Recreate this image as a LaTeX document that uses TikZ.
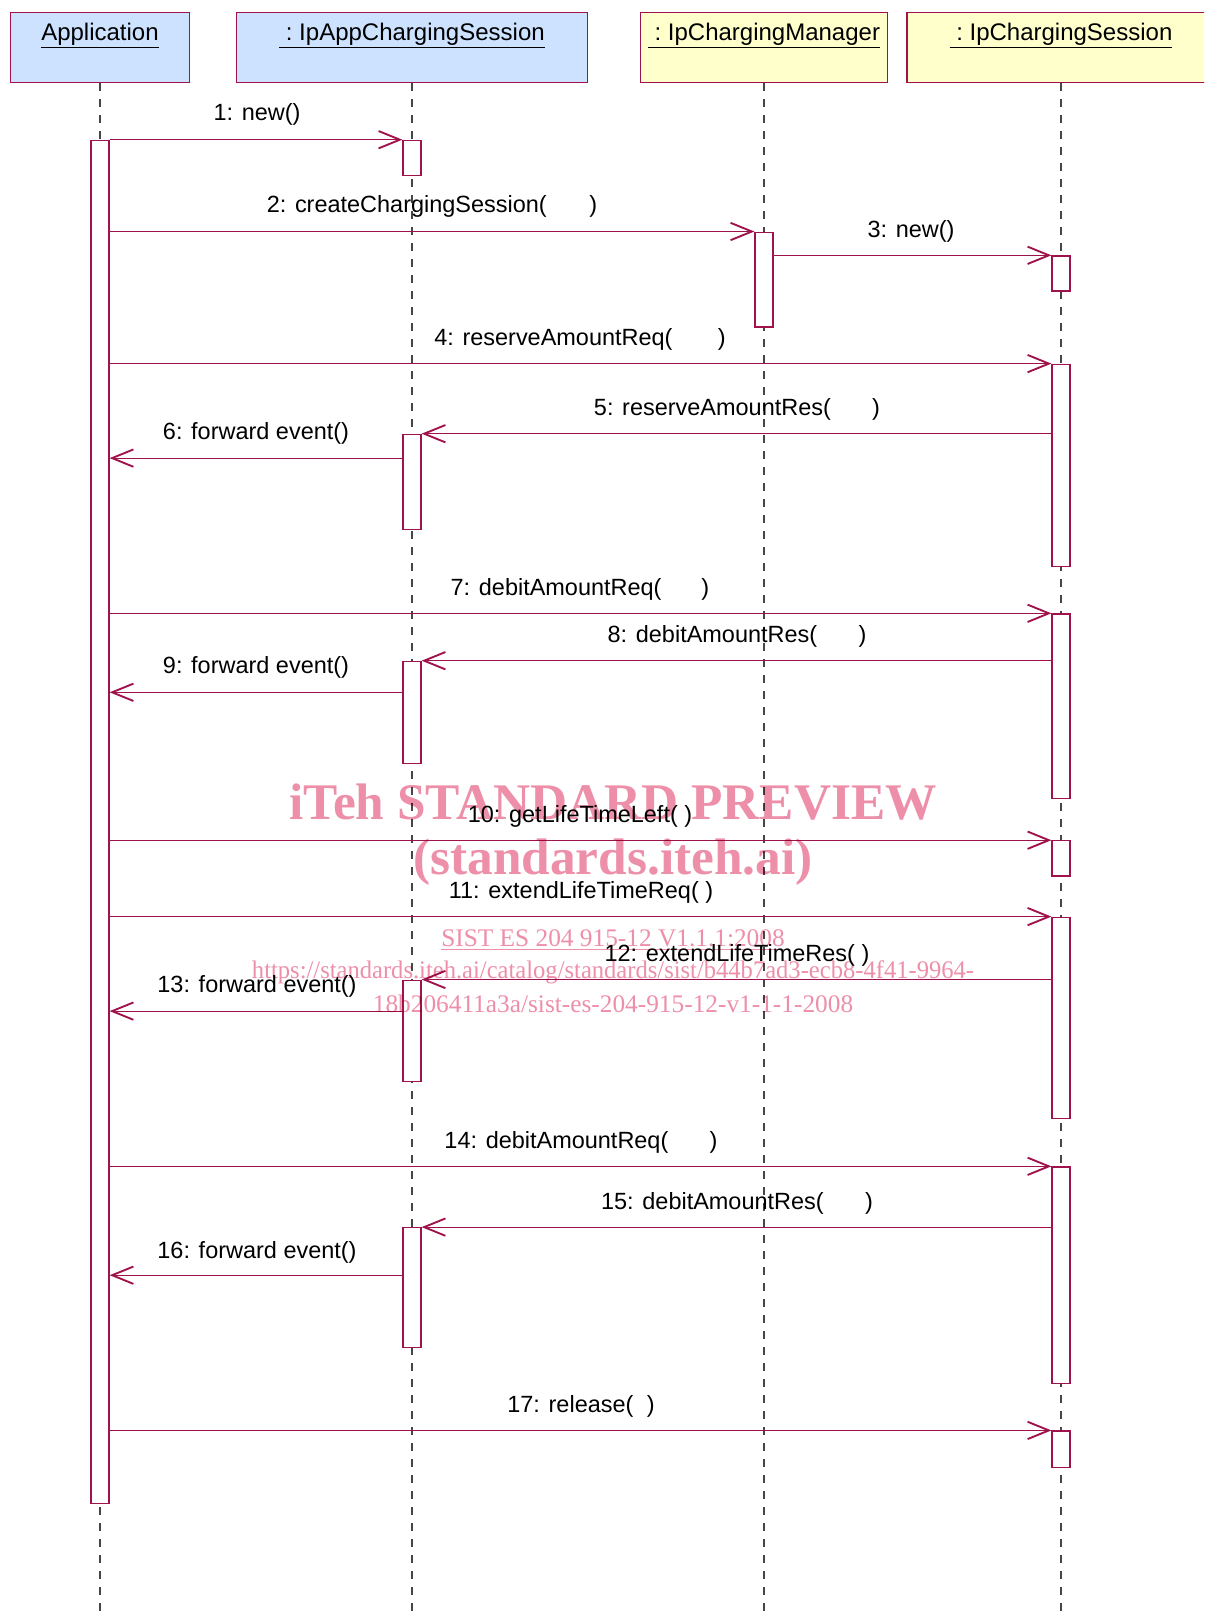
\documentclass[tikz,border=0pt]{standalone}
\usepackage{fontspec}
\setmainfont{Liberation Sans}
\newfontfamily\wmfont{Liberation Serif}
\usetikzlibrary{arrows.meta,fit}
\definecolor{crim}{RGB}{160,18,75}
\definecolor{hblue}{RGB}{204,226,255}
\definecolor{hyellow}{RGB}{255,255,204}
\definecolor{wm}{RGB}{238,143,170}
\definecolor{lifegray}{RGB}{70,70,70}
\begin{document}
\begin{tikzpicture}[x=0.75pt,y=-0.75pt,
  hdr/.style={draw=crim, line width=0.9pt, inner sep=0pt},
  act/.style={draw=crim, fill=white, line width=0.9pt, inner sep=0pt},
  life/.style={draw=lifegray, line width=0.9pt, dash pattern=on 6pt off 6pt},
  msg/.style={draw=crim, line width=0.9pt, -{Straight Barb[length=16pt,width=13pt,line width=1.4pt]}},
  lbl/.style={font=\fontsize{17.6}{20}\selectfont, inner sep=0pt},
  htext/.style={font=\fontsize{18}{20}\selectfont, inner sep=0pt},
  wmbig/.style={text=wm, font=\wmfont\bfseries\fontsize{38.5}{44}\selectfont, inner sep=0pt},
  wmsmall/.style={text=wm, font=\wmfont\fontsize{19}{22}\selectfont, inner sep=0pt}
]
\useasboundingbox (0,0) rectangle (1204,1618);
\clip (0,0) rectangle (1204,1618);
\fill[white] (0,0) rectangle (1204,1618);

% headers
\node[hdr, fill=hblue, fit={(10.3,12.4)(189.7,82.5)}] (app) {};
\node[hdr, fill=hblue, fit={(236.6,12.4)(587.4,82.5)}] (ias) {};
\node[hdr, fill=hyellow, fit={(640.7,12.4)(887.3,82.5)}] (mgr) {};
\node[hdr, fill=hyellow, fit={(906.9,12.4)(1215.1,82.5)}] (ses) {};
\node[htext] (appT) at (100,36) {\underline{Application}};
\node[htext] (iasT) at (412,36) {\underline{\ :\ IpAppChargingSession}};
\node[htext] (mgrT) at (764,36) {\underline{\ :\ IpChargingManager}};
\node[htext] (sesT) at (1061,36) {\underline{\ :\ IpChargingSession}};

% lifelines
\coordinate (bot) at (0,1618);
\draw[life] (app.south) -- (app.south |- bot);
\draw[life] (ias.south) -- (ias.south |- bot);
\draw[life] (mgr.south) -- (mgr.south |- bot);
\draw[life] (ses.south) -- (ses.south |- bot);

% activations
\node[act, fit={(91,140.3)(109,1503.2)}] (appact) {};
\node[act, fit={(403,140.3)(421,175.4)}] (ia1) {};
\node[act, fit={(403,434.3)(421,529.3)}] (ia2) {};
\node[act, fit={(403,661.3)(421,763.5)}] (ia3) {};
\node[act, fit={(403,980.1)(421,1081.2)}] (ia4) {};
\node[act, fit={(403,1227.7)(421,1347.4)}] (ia5) {};
\node[act, fit={(755,232.1)(773,327.0)}] (mg1) {};
\node[act, fit={(1052,255.9)(1070,290.9)}] (s1) {};
\node[act, fit={(1052,364.2)(1070,566.4)}] (s2) {};
\node[act, fit={(1052,613.9)(1070,798.5)}] (s3) {};
\node[act, fit={(1052,840.8)(1070,875.9)}] (s4) {};
\node[act, fit={(1052,917.2)(1070,1118.4)}] (s5) {};
\node[act, fit={(1052,1166.9)(1070,1383.5)}] (s6) {};
\node[act, fit={(1052,1431.0)(1070,1467.1)}] (s7) {};

% messages
\coordinate (m6) at (0,458.1);
\coordinate (m9) at (0,692.3);
\coordinate (m13) at (0,1011.1);
\coordinate (m16) at (0,1275.2);
\draw[msg] (appact.east |- ia1.north) -- (ia1.north west);
\draw[msg] (appact.east |- mg1.north) -- (mg1.north west);
\draw[msg] (mg1.east |- s1.north) -- (s1.north west);
\draw[msg] (appact.east |- s2.north) -- (s2.north west);
\draw[msg] (s2.west |- ia2.north) -- (ia2.north east);
\draw[msg] (ia2.west |- m6) -- (appact.east |- m6);
\draw[msg] (appact.east |- s3.north) -- (s3.north west);
\draw[msg] (s3.west |- ia3.north) -- (ia3.north east);
\draw[msg] (ia3.west |- m9) -- (appact.east |- m9);
\draw[msg] (appact.east |- s4.north) -- (s4.north west);
\draw[msg] (appact.east |- s5.north) -- (s5.north west);
\draw[msg] (s5.west |- ia4.north) -- (ia4.north east);
\draw[msg] (ia4.west |- m13) -- (appact.east |- m13);
\draw[msg] (appact.east |- s6.north) -- (s6.north west);
\draw[msg] (s6.west |- ia5.north) -- (ia5.north east);
\draw[msg] (ia5.west |- m16) -- (appact.east |- m16);
\draw[msg] (appact.east |- s7.north) -- (s7.north west);

% watermark (multiplied over the drawing)
\begin{scope}[blend mode=multiply]
\node[wmbig] (wm1) at (613,802) {iTeh STANDARD PREVIEW};
\node[wmbig] (wm2) at (613,862) {(standards.iteh.ai)};
\node[wmsmall] (wm3) at (613,940) {\underline{SIST ES 204 915-12 V1.1.1:2008}};
\node[wmsmall, xscale=0.97] (wm4) at (613,972) {https://standards.iteh.ai/catalog/standards/sist/b44b7ad3-ecb8-4f41-9964-};
\node[wmsmall] (wm5) at (613,1004) {18b206411a3a/sist-es-204-915-12-v1-1-1-2008};
\end{scope}

% labels
\node[lbl] (l1) at (257,114) {1: new()};
\node[lbl] (l2) at (432,206) {2: createChargingSession(\hspace{32pt})};
\node[lbl] (l3) at (911,231) {3: new()};
\node[lbl] (l4) at (580,339) {4: reserveAmountReq(\hspace{34pt})};
\node[lbl] (l5) at (737,409) {5: reserveAmountRes(\hspace{31pt})};
\node[lbl] (l6) at (256,433) {6: forward event()};
\node[lbl] (l7) at (580,589) {7: debitAmountReq(\hspace{30pt})};
\node[lbl] (l8) at (737,636) {8: debitAmountRes(\hspace{31pt})};
\node[lbl] (l9) at (256,667) {9: forward event()};
\node[lbl] (l10) at (580,816) {10: getLifeTimeLeft( )};
\node[lbl] (l11) at (581,892) {11: extendLifeTimeReq( )};
\node[lbl] (l12) at (737,955) {12: extendLifeTimeRes( )};
\node[lbl] (l13) at (257,986) {13: forward event()};
\node[lbl] (l14) at (581,1142) {14: debitAmountReq(\hspace{31pt})};
\node[lbl] (l15) at (737,1203) {15: debitAmountRes(\hspace{31pt})};
\node[lbl] (l16) at (257,1252) {16: forward event()};
\node[lbl] (l17) at (581,1406) {17: release(\hspace{10pt})};
\end{tikzpicture}
\end{document}
